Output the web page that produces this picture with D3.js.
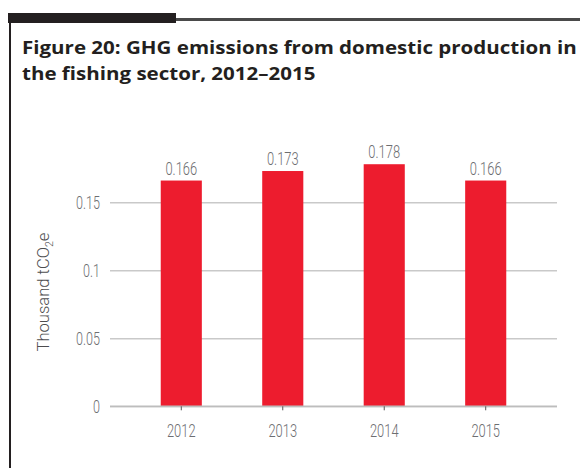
<!DOCTYPE html>
<html>
<head>
<meta charset="utf-8">
<script src="https://cdn.jsdelivr.net/npm/d3@7"></script>
<style>
  body { margin: 0; background: #fff; }
  svg { display: block; }
</style>
</head>
<body>
<svg width="580" height="468"></svg>
<script>
const years = ['2012', '2013', '2014', '2015'];
const emissions = [0.166, 0.173, 0.178, 0.166];
const valueLabels = ['0.166', '0.173', '0.178', '0.166'];
const yTicks = [0, 0.05, 0.1, 0.15];
const yTickLabels = ['0', '0.05', '0.1', '0.15'];
const titleLines = [
  'Figure 20: GHG emissions from domestic production in',
  'the fishing sector, 2012\u20132015'
];

const svg = d3.select('svg');
const narrow = 'scale(0.68,1)';

// frame bits
svg.append('rect').attr('x', 8).attr('y', 13).attr('width', 168).attr('height', 10).attr('fill', '#231f20');
svg.append('rect').attr('x', 176).attr('y', 18).attr('width', 404).attr('height', 3).attr('fill', '#4a4a4a');
svg.append('rect').attr('x', 9).attr('y', 13).attr('width', 2).attr('height', 455).attr('fill', '#231f20');

// title, stretched so the first line runs to the right edge like the original
const titles = svg.selectAll('.title')
  .data(titleLines)
  .enter()
  .append('text')
  .attr('class', 'title')
  .attr('font-family', '"Open Sans", sans-serif')
  .attr('font-weight', 700)
  .attr('font-size', 18)
  .attr('fill', '#231f20')
  .text(d => d);
const tw = titles.node().getComputedTextLength();
const ts = 555 / tw;
titles.attr('transform', (d, i) => 'translate(22,' + (54 + i * 26) + ') scale(' + ts + ',1)');

const x = d3.scaleBand()
  .domain(years)
  .range([110, 557])
  .paddingInner(0.595)
  .paddingOuter(0.5);

const y = d3.scaleLinear()
  .domain([0, 0.2])
  .range([406.3, 134.3]);

const gy = svg.append('g')
  .attr('transform', 'translate(110,0)')
  .call(d3.axisLeft(y)
    .tickValues(yTicks)
    .tickSize(-447)
    .tickFormat((d, i) => yTickLabels[i]));
gy.select('.domain').remove();
gy.selectAll('line').attr('stroke', '#c9c9c9').attr('stroke-width', 1.4);
gy.selectAll('text')
  .attr('x', 0)
  .attr('dy', '0.36em')
  .attr('transform', 'translate(-10,0) ' + narrow)
  .attr('font-family', 'Roboto, sans-serif')
  .attr('font-weight', 300)
  .attr('font-size', 18.5)
  .attr('fill', '#6d6e71');

svg.selectAll('.bar')
  .data(emissions)
  .enter()
  .append('rect')
  .attr('class', 'bar')
  .attr('x', (d, i) => x(years[i]))
  .attr('y', d => y(d))
  .attr('width', x.bandwidth())
  .attr('height', d => y(0) - y(d))
  .attr('fill', '#ed1c2e');

const gx = svg.append('g')
  .attr('transform', 'translate(0,' + y(0) + ')')
  .call(d3.axisBottom(x).tickSize(4).tickSizeOuter(0));
gx.select('.domain').attr('stroke', '#bdbdbd').attr('stroke-width', 1.6).attr('d', 'M110,0H557');
gx.selectAll('line').attr('stroke', '#555');
gx.selectAll('text')
  .attr('y', 0)
  .attr('dy', 0)
  .attr('transform', 'translate(0,31) ' + narrow)
  .attr('font-family', 'Roboto, sans-serif')
  .attr('font-weight', 300)
  .attr('font-size', 19)
  .attr('fill', '#6d6e71');

svg.selectAll('.val')
  .data(emissions)
  .enter()
  .append('text')
  .attr('class', 'val')
  .attr('text-anchor', 'middle')
  .attr('transform', (d, i) => 'translate(' + (x(years[i]) + x.bandwidth() / 2) + ',' + (y(d) - 6) + ') ' + narrow)
  .attr('font-family', 'Roboto, sans-serif')
  .attr('font-weight', 300)
  .attr('font-size', 19)
  .attr('fill', '#6d6e71')
  .text((d, i) => valueLabels[i]);

const yl = svg.append('text')
  .attr('text-anchor', 'middle')
  .attr('font-family', 'Roboto, sans-serif')
  .attr('font-weight', 300)
  .attr('font-size', 17)
  .attr('fill', '#4d4d4f');
yl.append('tspan').text('Thousand tCO');
yl.append('tspan').attr('font-size', 11).attr('dy', 4).text('2');
yl.append('tspan').attr('dy', -4).text('e');
const ls = 119 / yl.node().getComputedTextLength();
yl.attr('transform', 'translate(49,292) rotate(-90) scale(' + ls + ',1)');
</script>
</body>
</html>
